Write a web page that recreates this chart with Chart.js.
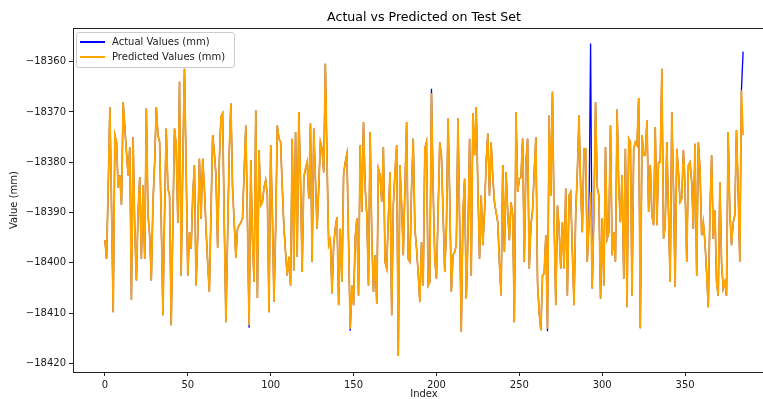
<!DOCTYPE html>
<html><head><meta charset="utf-8">
<script src="https://cdn.jsdelivr.net/npm/chart.js@4.4.1/dist/chart.umd.min.js"></script>
<style>
html,body{margin:0;padding:0;width:763px;height:399px;overflow:hidden;background:#fff;}
#wrap{position:relative;width:848px;height:410px;}
#title{position:absolute;left:224px;width:400px;top:9px;text-align:center;font:12.6px 'DejaVu Sans',sans-serif;color:#000;line-height:16px;white-space:nowrap;}
#legend{position:absolute;left:76px;top:32px;width:159px;height:36px;border:1px solid #cccccc;border-radius:3px;background:rgba(255,255,255,0.8);font:10px 'DejaVu Sans',sans-serif;color:#222;box-sizing:border-box;}
.row{position:absolute;left:0;height:15px;display:flex;align-items:center;white-space:nowrap;}
.sw{display:inline-block;width:25px;height:2px;margin-left:3px;margin-right:7px;}
</style></head>
<body>
<div id="wrap"><canvas id="c" width="848" height="410"></canvas><div id="title"></div><div id="legend"></div></div>
<script>
const titleText = 'Actual vs Predicted on Test Set';
const xAxisLabel = 'Index';
const yAxisLabel = 'Value (mm)';
const seriesLabels = ['Actual Values (mm)', 'Predicted Values (mm)'];
const seriesColors = ['#0000ff', '#ffa500'];
const xTicks = [0, 50, 100, 150, 200, 250, 300, 350];
const yTicks = [-18360, -18370, -18380, -18390, -18400, -18410, -18420];

const predicted = [
-18395.5,-18399.2,-18385,-18369,-18389,-18409.8,-18374.6,-18376,-18385,-18382.6,
-18388.5,-18368,-18373,-18378,-18382.6,-18377,-18407.4,-18375,-18393.2,-18403.5,
-18390,-18383,-18399.2,-18384.6,-18399.2,-18369.3,-18390.5,-18394.5,-18403.5,-18388,
-18380,-18369,-18374.6,-18376,-18392,-18410.4,-18390,-18373.3,-18385.2,-18386.6,
-18412.4,-18392,-18373.3,-18376.6,-18392,-18364,-18402.5,-18380,-18361.4,-18381.3,
-18402.5,-18393.9,-18397.2,-18386.6,-18380.6,-18404.5,-18394.5,-18379.3,-18391.2,-18379.3,
-18385,-18393.2,-18400,-18405.8,-18390,-18374.6,-18378,-18382.6,-18397,-18380,
-18371,-18370.3,-18392,-18411.8,-18395,-18378,-18368.3,-18385,-18391.9,-18399,
-18393.2,-18392.5,-18392,-18391.2,-18382,-18372.7,-18392,-18412.4,-18379.6,-18395,
-18403.8,-18369.7,-18407,-18377.6,-18388.6,-18388,-18385,-18383.6,-18386.6,-18409.8,
-18376.6,-18390,-18407.8,-18393.2,-18372.7,-18375.3,-18376,-18385,-18393,-18398,
-18402.5,-18398.8,-18404.5,-18375.3,-18401.5,-18374,-18398.8,-18370,-18383.9,-18401.8,
-18383,-18381.3,-18380,-18387.2,-18372.3,-18399.8,-18373.3,-18383.3,-18393.2,-18385,
-18376,-18377.3,-18382,-18360.4,-18380,-18396.5,-18395.5,-18406.1,-18396.5,-18393,
-18390.9,-18408.4,-18393.2,-18403.8,-18382.3,-18380,-18378.3,-18395.9,-18413.1,-18404.5,
-18408.4,-18395,-18391.2,-18406.5,-18376.6,-18389.9,-18372,-18385,-18390.5,-18404.5,
-18374,-18395,-18405.8,-18398.5,-18408.1,-18381.3,-18382.6,-18387.9,-18377,-18399.8,
-18401.1,-18391,-18382,-18410.4,-18388.6,-18382,-18376.6,-18418.5,-18380.6,-18388.6,
-18398.5,-18385,-18372,-18399.2,-18399.8,-18385,-18375.3,-18393.2,-18397.2,-18402,
-18407.8,-18395.9,-18404.5,-18377.3,-18376,-18404.5,-18403.8,-18366.3,-18385,-18399.2,
-18403.1,-18390,-18376,-18378.6,-18390,-18401.8,-18393.2,-18371.3,-18386.6,-18405.8,
-18398.5,-18397.8,-18396.5,-18371.3,-18392,-18413.7,-18390,-18383.3,-18407.1,-18395,
-18375.3,-18402.5,-18370.3,-18378.6,-18369,-18385,-18399.2,-18386.6,-18396.5,-18390,
-18380,-18374.3,-18386.6,-18376,-18383,-18387.9,-18390,-18391.9,-18400,-18406.5,
-18380.6,-18397.8,-18382,-18390,-18395.5,-18387.9,-18390.5,-18411.8,-18370,-18385.9,
-18383.3,-18383,-18375.3,-18399.8,-18380,-18375.3,-18401.1,-18392.5,-18389.6,-18382,
-18375,-18404,-18410,-18413.4,-18402.5,-18402.1,-18394.5,-18413.1,-18370.7,-18386.6,
-18366,-18391.9,-18408.4,-18388.6,-18393.2,-18401.1,-18391.9,-18401.1,-18385.2,-18406.5,
-18386.6,-18385.9,-18397.8,-18408.4,-18390.5,-18382,-18370.7,-18385,-18393.9,-18377.3,
-18377.3,-18399.8,-18392,-18385.9,-18405.1,-18390,-18368,-18385,-18386.6,-18407.1,
-18391.2,-18404.5,-18377,-18395.2,-18393.9,-18372.7,-18398.5,-18393.9,-18399.8,-18369.5,
-18385,-18391.9,-18382.6,-18403.1,-18377.3,-18408.8,-18375.3,-18376,-18406.5,-18377.3,
-18376,-18376.6,-18367.2,-18413,-18374.6,-18378.6,-18378.6,-18371.7,-18389.9,-18380.6,
-18390.5,-18392.5,-18373,-18392.5,-18380,-18380,-18361.4,-18395.2,-18392.5,-18376,
-18390,-18403.8,-18370,-18385.2,-18404.8,-18377.3,-18382,-18387.9,-18387.2,-18377.6,
-18385,-18399.8,-18380.6,-18380,-18383.9,-18393.2,-18376.3,-18402.5,-18376,-18381.3,
-18394.5,-18391.9,-18395.9,-18402,-18408.8,-18390,-18378.6,-18395.2,-18389.6,-18403.8,
-18406.5,-18383.9,-18399.8,-18405.1,-18403.8,-18406.5,-18374,-18390,-18396.5,-18392,
-18390.5,-18373.6,-18385,-18399.8,-18365.7,-18374.6
];

const actual = [
-18395.5,-18399.2,-18385,-18369,-18389,-18409.8,-18374.6,-18376,-18385,-18382.6,
-18388.5,-18368,-18373,-18378,-18382.6,-18377,-18407.4,-18375,-18393.2,-18403.5,
-18390,-18383,-18399.2,-18384.6,-18399.2,-18369.3,-18390.5,-18394.5,-18403.5,-18388,
-18380,-18369,-18374.6,-18376,-18392,-18410.4,-18390,-18373.3,-18385.2,-18386.6,
-18412.4,-18392,-18373.3,-18376.6,-18392,-18364,-18402.5,-18380,-18361.4,-18381.3,
-18402.5,-18393.9,-18397.2,-18386.6,-18380.6,-18404.5,-18394.5,-18379.3,-18391.2,-18379.3,
-18385,-18393.2,-18400,-18405.8,-18390,-18374.6,-18378,-18382.6,-18397,-18380,
-18371,-18370.3,-18392,-18411.8,-18395,-18378,-18368.3,-18385,-18391.9,-18399,
-18393.2,-18392.5,-18392,-18391.2,-18382,-18372.7,-18392,-18412.9,-18379.6,-18395,
-18403.8,-18369.7,-18407,-18377.6,-18388.6,-18388,-18385,-18383.6,-18386.6,-18409.8,
-18376.6,-18390,-18407.8,-18393.2,-18372.7,-18375.3,-18376,-18385,-18393,-18398,
-18402.5,-18398.8,-18404.5,-18375.3,-18401.5,-18374,-18398.8,-18370,-18383.9,-18401.8,
-18383,-18381.3,-18380,-18387.2,-18372.3,-18399.8,-18373.3,-18383.3,-18393.2,-18385,
-18376,-18377.3,-18382,-18360.4,-18380,-18396.5,-18395.5,-18406.1,-18396.5,-18393,
-18390.9,-18408.4,-18393.2,-18403.8,-18382.3,-18380,-18378.3,-18395.9,-18413.5,-18404.5,
-18408.4,-18395,-18391.2,-18406.5,-18376.6,-18389.9,-18372,-18385,-18390.5,-18404.5,
-18374,-18395,-18405.8,-18398.5,-18408.1,-18381.3,-18382.6,-18387.9,-18377,-18399.8,
-18401.1,-18391,-18382,-18410.4,-18388.6,-18382,-18376.6,-18418.5,-18380.6,-18388.6,
-18398.5,-18385,-18372,-18399.2,-18399.8,-18385,-18375.3,-18393.2,-18397.2,-18402,
-18407.8,-18395.9,-18404.5,-18377.3,-18376,-18404.5,-18403.8,-18365.4,-18385,-18399.2,
-18403.1,-18390,-18376,-18378.6,-18390,-18401.8,-18393.2,-18371.3,-18386.6,-18405.8,
-18398.5,-18397.8,-18396.5,-18371.3,-18392,-18413.7,-18390,-18383.3,-18407.1,-18395,
-18375.3,-18402.5,-18370.3,-18378.6,-18369,-18385,-18399.2,-18386.6,-18396.5,-18390,
-18380,-18374.3,-18386.6,-18376,-18383,-18387.9,-18390,-18391.9,-18400,-18406.5,
-18380.6,-18397.8,-18382,-18390,-18395.5,-18387.9,-18390.5,-18411.8,-18370,-18385.9,
-18383.3,-18383,-18375.3,-18399.8,-18380,-18375.3,-18401.1,-18392.5,-18389.6,-18382,
-18375,-18404,-18410,-18413.4,-18402.5,-18402.1,-18394.5,-18413.6,-18370.7,-18386.6,
-18366,-18391.9,-18408.4,-18388.6,-18393.2,-18401.1,-18391.9,-18401.1,-18385.2,-18406.5,
-18386.6,-18385.9,-18397.8,-18408.4,-18390.5,-18382,-18370.7,-18385,-18393.9,-18377.3,
-18377.3,-18399.8,-18392,-18356.4,-18405.1,-18390,-18368,-18385,-18386.6,-18407.1,
-18391.2,-18404.5,-18377,-18395.2,-18393.9,-18372.7,-18398.5,-18393.9,-18399.8,-18369.5,
-18385,-18391.9,-18382.6,-18403.1,-18377.3,-18408.8,-18375.3,-18376,-18406.5,-18377.3,
-18376,-18376.6,-18367.2,-18413,-18374.6,-18378.6,-18378.6,-18371.7,-18389.9,-18380.6,
-18390.5,-18392.5,-18373,-18392.5,-18380,-18380,-18361.4,-18395.2,-18392.5,-18376,
-18390,-18403.8,-18370,-18385.2,-18404.8,-18377.3,-18382,-18387.9,-18387.2,-18377.6,
-18385,-18399.8,-18380.6,-18380,-18383.9,-18393.2,-18376.3,-18402.5,-18376,-18381.3,
-18394.5,-18391.9,-18395.9,-18402,-18408.8,-18390,-18378.6,-18395.2,-18389.6,-18403.8,
-18406.5,-18383.9,-18399.8,-18405.1,-18403.8,-18406.5,-18374,-18390,-18396.5,-18392,
-18390.5,-18373.6,-18385,-18399.8,-18365.7,-18358
];

document.getElementById('title').textContent = titleText;

// legend (HTML, real text)
const legendEl = document.getElementById('legend');
seriesLabels.forEach((lab, i) => {
  const row = document.createElement('div');
  row.className = 'row';
  row.style.top = (1 + i * 15) + 'px';
  const sw = document.createElement('span');
  sw.className = 'sw';
  sw.style.background = seriesColors[i];
  row.appendChild(sw);
  row.appendChild(document.createTextNode(lab));
  legendEl.appendChild(row);
});

const FONT = 'DejaVu Sans';
const TXT = '#1a1a1a';

const framePlugin = {
  id: 'frame',
  afterDatasetsDraw(chart) {
    const {ctx, chartArea: a} = chart;
    ctx.save();
    ctx.strokeStyle = '#222';
    ctx.lineWidth = 1;
    ctx.strokeRect(Math.round(a.left) + 0.5, Math.round(a.top) + 0.5,
      Math.round(a.right - a.left), Math.round(a.bottom - a.top));
    ctx.restore();
  }
};

new Chart(document.getElementById('c'), {
  type: 'scatter',
  data: {
    datasets: [
      { label: seriesLabels[0], data: actual.map((v, i) => ({x: i, y: v})),
        borderColor: seriesColors[0], backgroundColor: seriesColors[0],
        showLine: true, borderWidth: 1.3, pointRadius: 0, tension: 0, order: 1 },
      { label: seriesLabels[1], data: predicted.map((v, i) => ({x: i, y: v})),
        borderColor: seriesColors[1], backgroundColor: seriesColors[1],
        showLine: true, borderWidth: 1.8, pointRadius: 0, tension: 0, order: 0 }
    ]
  },
  options: {
    responsive: false,
    animation: false,
    devicePixelRatio: 1,
    layout: { padding: { left: 0, right: 73, top: 28, bottom: 0 } },
    plugins: {
      legend: { display: false },
      tooltip: { enabled: false },
      title: { display: false }
    },
    scales: {
      x: {
        type: 'linear', min: -19.25, max: 404.25,
        afterBuildTicks: s => { s.ticks = xTicks.map(v => ({value: v})); },
        afterFit: s => { s.height = 38; },
        ticks: { color: TXT, font: { family: FONT, size: 10 }, padding: 3,
          maxRotation: 0, autoSkip: false, callback: v => String(v) },
        grid: { drawOnChartArea: false, drawTicks: true, tickLength: 4, color: '#222' },
        border: { display: false },
        title: { display: true, text: xAxisLabel, color: TXT,
          font: { family: FONT, size: 10 }, padding: { top: 4, bottom: 10 } }
      },
      y: {
        type: 'linear', min: -18421.7, max: -18353.3,
        afterBuildTicks: s => { s.ticks = yTicks.map(v => ({value: v})); },
        afterFit: s => { s.width = 73; },
        ticks: { color: TXT, font: { family: FONT, size: 10 }, padding: 3,
          autoSkip: false, callback: v => '\u2212' + Math.abs(v) },
        grid: { drawOnChartArea: false, drawTicks: true, tickLength: 4, color: '#222' },
        border: { display: false },
        title: { display: true, text: yAxisLabel, color: TXT,
          font: { family: FONT, size: 10 }, padding: { top: 8, bottom: 4 } }
      }
    }
  },
  plugins: [framePlugin]
});
</script>
</body></html>
